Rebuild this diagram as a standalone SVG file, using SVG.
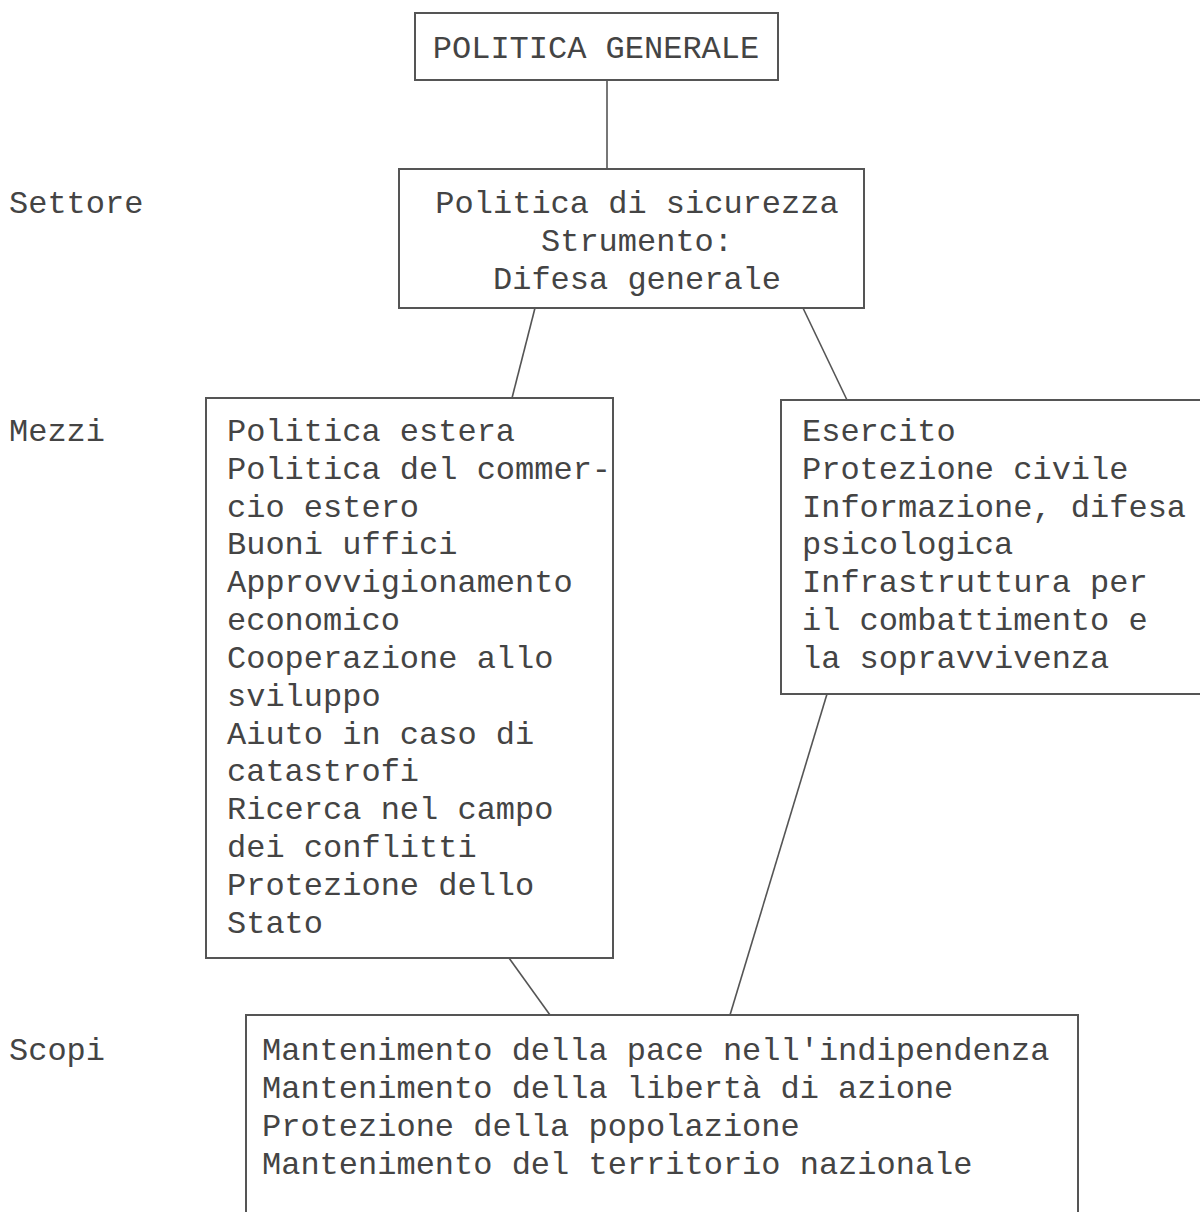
<svg xmlns="http://www.w3.org/2000/svg" width="1200" height="1212" viewBox="0 0 1200 1212">
<style>
.box{fill:#ffffff;stroke:#555555;stroke-width:2}
.t{font-family:"Liberation Mono","Courier New",monospace;font-size:32px;fill:#444444}
.c{text-anchor:middle}
.ln{stroke:#555555;stroke-width:1.6;fill:none}
</style>
<rect width="1200" height="1212" fill="#ffffff"/>
<g id="connectors">
<line class="ln" x1="607" y1="80" x2="607" y2="169"/>
<line class="ln" x1="535" y1="308" x2="512" y2="398"/>
<line class="ln" x1="803" y1="308" x2="847" y2="400"/>
<line class="ln" x1="509" y1="958" x2="550" y2="1015"/>
<line class="ln" x1="827" y1="694" x2="730" y2="1015"/>
</g>
<g id="labels">
<text class="t" x="9" y="213">Settore</text>
<text class="t" x="9" y="441">Mezzi</text>
<text class="t" x="9" y="1060">Scopi</text>
</g>
<g id="politica-generale">
<rect class="box" x="415" y="13" width="363" height="67"/>
<text class="t c" x="596" y="58">POLITICA GENERALE</text>
</g>
<g id="settore">
<rect class="box" x="399" y="169" width="465" height="139"/>
<text class="t c" x="637" y="213">Politica di sicurezza</text>
<text class="t c" x="637" y="251">Strumento:</text>
<text class="t c" x="637" y="289">Difesa generale</text>
</g>
<g id="mezzi-sinistra">
<rect class="box" x="206" y="398" width="407" height="560"/>
<text class="t" x="227" y="441">Politica estera</text>
<text class="t" x="227" y="479">Politica del commer-</text>
<text class="t" x="227" y="517">cio estero</text>
<text class="t" x="227" y="554">Buoni uffici</text>
<text class="t" x="227" y="592">Approvvigionamento</text>
<text class="t" x="227" y="630">economico</text>
<text class="t" x="227" y="668">Cooperazione allo</text>
<text class="t" x="227" y="706">sviluppo</text>
<text class="t" x="227" y="744">Aiuto in caso di</text>
<text class="t" x="227" y="781">catastrofi</text>
<text class="t" x="227" y="819">Ricerca nel campo</text>
<text class="t" x="227" y="857">dei conflitti</text>
<text class="t" x="227" y="895">Protezione dello</text>
<text class="t" x="227" y="933">Stato</text>
</g>
<g id="mezzi-destra">
<rect class="box" x="781" y="400" width="430" height="294"/>
<text class="t" x="802" y="441">Esercito</text>
<text class="t" x="802" y="479">Protezione civile</text>
<text class="t" x="802" y="517">Informazione, difesa</text>
<text class="t" x="802" y="554">psicologica</text>
<text class="t" x="802" y="592">Infrastruttura per</text>
<text class="t" x="802" y="630">il combattimento e</text>
<text class="t" x="802" y="668">la sopravvivenza</text>
</g>
<g id="scopi">
<rect class="box" x="246" y="1015" width="832" height="210"/>
<text class="t" x="262" y="1060">Mantenimento della pace nell'indipendenza</text>
<text class="t" x="262" y="1098">Mantenimento della libertà di azione</text>
<text class="t" x="262" y="1136">Protezione della popolazione</text>
<text class="t" x="262" y="1174">Mantenimento del territorio nazionale</text>
</g>
</svg>
